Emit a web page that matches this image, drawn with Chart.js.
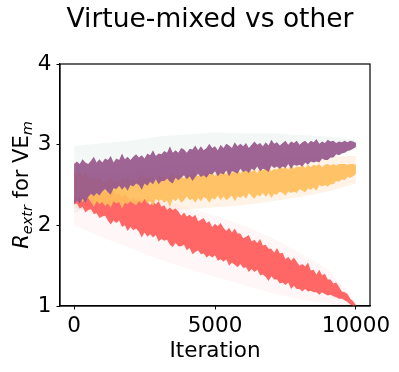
<!DOCTYPE html>
<html>
<head>
<meta charset="utf-8">
<script src="https://cdn.jsdelivr.net/npm/chart.js@4"></script>
<style>
    html, body { margin: 0; padding: 0; background: #fff; }
    #chart { display: block; }
</style>
</head>
<body>
<canvas id="chart" width="399" height="372"></canvas>
<script>
// Iterations for the dense (noisy) runs, every 100
const iterations = [];
for (let it = 0; it <= 10000; it += 100) iterations.push(it);

// Virtue-mixed (purple) run, upper / lower edge of the noise
const purpleHigh = [2.76, 2.79, 2.76, 2.82, 2.78, 2.76, 2.80, 2.85, 2.78, 2.82,
    2.78, 2.83, 2.81, 2.86, 2.78, 2.83, 2.81, 2.89, 2.82, 2.85,
    2.81, 2.85, 2.88, 2.84, 2.87, 2.83, 2.89, 2.87, 2.93, 2.86,
    2.89, 2.88, 2.92, 2.90, 2.98, 2.90, 2.93, 2.90, 2.96, 2.94,
    2.90, 2.95, 2.94, 2.99, 2.93, 2.98, 2.93, 2.96, 3.01, 2.96,
    2.98, 2.93, 3.00, 2.96, 3.01, 2.99, 2.96, 3.03, 2.98, 3.01,
    2.98, 3.02, 2.96, 3.00, 3.04, 3.00, 3.02, 2.98, 3.03, 2.99,
    3.06, 3.01, 3.03, 2.99, 3.02, 3.05, 3.00, 3.04, 3.02, 3.05,
    3.00, 3.03, 3.05, 3.01, 3.05, 3.03, 3.07, 3.01, 3.04, 3.02,
    3.06, 3.04, 3.05, 3.02, 3.04, 3.03, 3.05, 3.03, 3.05, 3.04, 3.02];
const purpleLow = [2.26, 2.31, 2.27, 2.33, 2.28, 2.35, 2.39, 2.36, 2.40, 2.37,
    2.42, 2.45, 2.41, 2.38, 2.46, 2.45, 2.49, 2.44, 2.48, 2.43,
    2.50, 2.48, 2.52, 2.50, 2.44, 2.52, 2.49, 2.54, 2.51, 2.57,
    2.51, 2.55, 2.55, 2.58, 2.54, 2.52, 2.59, 2.56, 2.59, 2.62,
    2.57, 2.61, 2.55, 2.60, 2.64, 2.60, 2.62, 2.59, 2.64, 2.63,
    2.67, 2.61, 2.65, 2.63, 2.68, 2.61, 2.67, 2.66, 2.64, 2.70,
    2.66, 2.68, 2.65, 2.70, 2.68, 2.73, 2.67, 2.70, 2.69, 2.66,
    2.74, 2.71, 2.73, 2.70, 2.73, 2.71, 2.76, 2.70, 2.75, 2.74,
    2.75, 2.73, 2.78, 2.75, 2.79, 2.78, 2.79, 2.78, 2.83, 2.81,
    2.81, 2.84, 2.84, 2.88, 2.87, 2.89, 2.90, 2.92, 2.93, 2.95, 2.97];

// Orange run
const orangeHigh = [2.66, 2.62, 2.66, 2.61, 2.66, 2.60, 2.56, 2.60, 2.56, 2.60,
    2.55, 2.53, 2.57, 2.61, 2.54, 2.57, 2.53, 2.59, 2.56, 2.61,
    2.55, 2.58, 2.55, 2.58, 2.64, 2.58, 2.61, 2.57, 2.60, 2.56,
    2.63, 2.59, 2.61, 2.58, 2.63, 2.65, 2.60, 2.63, 2.61, 2.58,
    2.65, 2.61, 2.68, 2.63, 2.61, 2.65, 2.63, 2.67, 2.63, 2.65,
    2.61, 2.67, 2.65, 2.67, 2.63, 2.70, 2.65, 2.67, 2.69, 2.64,
    2.69, 2.67, 2.71, 2.66, 2.69, 2.65, 2.71, 2.68, 2.71, 2.74,
    2.67, 2.70, 2.69, 2.73, 2.70, 2.73, 2.69, 2.75, 2.70, 2.73,
    2.72, 2.75, 2.71, 2.75, 2.72, 2.75, 2.74, 2.76, 2.72, 2.75,
    2.76, 2.74, 2.76, 2.74, 2.76, 2.76, 2.76, 2.75, 2.76, 2.76, 2.75];
const orangeLow = [2.36, 2.32, 2.35, 2.29, 2.32, 2.34, 2.29, 2.23, 2.30, 2.26,
    2.29, 2.24, 2.27, 2.22, 2.30, 2.27, 2.29, 2.21, 2.28, 2.26,
    2.30, 2.27, 2.25, 2.30, 2.27, 2.33, 2.27, 2.30, 2.24, 2.33,
    2.30, 2.32, 2.28, 2.31, 2.23, 2.33, 2.30, 2.34, 2.28, 2.31,
    2.36, 2.31, 2.33, 2.28, 2.34, 2.30, 2.35, 2.33, 2.28, 2.34,
    2.32, 2.37, 2.31, 2.36, 2.31, 2.34, 2.37, 2.30, 2.36, 2.34,
    2.37, 2.33, 2.40, 2.36, 2.33, 2.38, 2.36, 2.40, 2.35, 2.40,
    2.34, 2.39, 2.38, 2.42, 2.40, 2.37, 2.42, 2.40, 2.42, 2.40,
    2.45, 2.43, 2.41, 2.46, 2.44, 2.47, 2.43, 2.50, 2.48, 2.50,
    2.48, 2.51, 2.51, 2.55, 2.54, 2.57, 2.56, 2.60, 2.59, 2.61, 2.64];

// Red run
const redHigh = [2.58, 2.58, 2.57, 2.54, 2.55, 2.51, 2.50, 2.46, 2.48, 2.45,
    2.45, 2.41, 2.42, 2.38, 2.43, 2.38, 2.39, 2.35, 2.38, 2.35,
    2.31, 2.35, 2.31, 2.33, 2.29, 2.33, 2.29, 2.25, 2.29, 2.26,
    2.30, 2.23, 2.25, 2.19, 2.22, 2.19, 2.21, 2.17, 2.12, 2.16,
    2.11, 2.13, 2.10, 2.13, 2.05, 2.07, 2.09, 2.03, 2.05, 1.98,
    2.02, 1.99, 2.03, 1.97, 1.93, 1.97, 1.91, 1.96, 1.90, 1.90,
    1.84, 1.86, 1.88, 1.80, 1.82, 1.78, 1.83, 1.75, 1.76, 1.71,
    1.71, 1.66, 1.72, 1.65, 1.66, 1.58, 1.61, 1.56, 1.60, 1.55,
    1.50, 1.52, 1.49, 1.54, 1.44, 1.45, 1.39, 1.45, 1.38, 1.40,
    1.33, 1.33, 1.28, 1.29, 1.24, 1.18, 1.17, 1.15, 1.09, 1.06, 1.01];
const redLow = [2.26, 2.27, 2.21, 2.23, 2.16, 2.19, 2.20, 2.14, 2.15, 2.09,
    2.11, 2.12, 2.06, 2.01, 2.06, 2.03, 2.06, 1.98, 2.00, 1.93,
    1.98, 1.94, 1.96, 1.92, 1.85, 1.91, 1.86, 1.89, 1.85, 1.88,
    1.80, 1.83, 1.81, 1.82, 1.76, 1.73, 1.78, 1.74, 1.74, 1.76,
    1.69, 1.72, 1.64, 1.67, 1.69, 1.64, 1.65, 1.60, 1.63, 1.60,
    1.63, 1.56, 1.58, 1.55, 1.58, 1.50, 1.54, 1.51, 1.48, 1.52,
    1.47, 1.48, 1.42, 1.46, 1.42, 1.45, 1.38, 1.39, 1.36, 1.31,
    1.37, 1.33, 1.33, 1.28, 1.29, 1.26, 1.29, 1.21, 1.25, 1.21,
    1.21, 1.18, 1.21, 1.18, 1.19, 1.17, 1.17, 1.14, 1.17, 1.15,
    1.13, 1.14, 1.12, 1.11, 1.09, 1.09, 1.07, 1.05, 1.02, 1.00, 0.99];

// Faint spread bands
const bandIterations = [0, 1000, 2000, 3000, 4000, 5000, 6000, 7000, 8000, 9000, 10000];
const purpleBandHigh = [2.98, 3.02, 3.05, 3.10, 3.13, 3.15, 3.14, 3.14, 3.12, 3.10, 3.06];
const purpleBandLow = [2.15, 2.30, 2.40, 2.48, 2.55, 2.60, 2.65, 2.70, 2.75, 2.82, 2.94];
const orangeBandHigh = [2.72, 2.66, 2.68, 2.72, 2.76, 2.78, 2.80, 2.82, 2.84, 2.86, 2.86];
const orangeBandLow = [2.22, 2.12, 2.15, 2.18, 2.20, 2.22, 2.25, 2.30, 2.35, 2.42, 2.52];
const redBandHigh = [2.70, 2.55, 2.45, 2.35, 2.22, 2.12, 2.00, 1.85, 1.66, 1.46, 1.05];
const redBandLow = [2.00, 1.85, 1.72, 1.58, 1.47, 1.36, 1.26, 1.16, 1.08, 1.03, 0.98];

// Axis ticks
const xTickValues = [0, 5000, 10000];
const yTickValues = [1, 2, 3, 4];

const FONT = "'DejaVu Sans', 'Liberation Sans', sans-serif";

function points(xs, ys) {
    return xs.map((x, i) => ({ x: x, y: ys[i] }));
}

// Area edge: the upper edge fills down to the next dataset
function edge(xs, ys, color, fillNext) {
    return {
        data: points(xs, ys),
        borderWidth: 0,
        borderColor: 'rgba(0,0,0,0)',
        backgroundColor: color,
        pointRadius: 0,
        tension: 0,
        fill: fillNext ? '+1' : false
    };
}

// Box around the plot and the title centred over it
const frame = {
    id: 'frame',
    afterDraw(chart) {
        const { ctx, chartArea } = chart;
        ctx.save();
        ctx.strokeStyle = '#000';
        ctx.lineWidth = 1.2;
        ctx.strokeRect(chartArea.left, chartArea.top,
            chartArea.right - chartArea.left, chartArea.bottom - chartArea.top);

        ctx.fillStyle = '#000';
        ctx.font = '26.5px ' + FONT;
        ctx.textAlign = 'center';
        ctx.textBaseline = 'alphabetic';
        ctx.fillText('Virtue-mixed vs other', 210, 26.7);
        ctx.restore();
    }
};

// Y axis label with subscripts: R_extr for VE_m
const yLabel = {
    id: 'yLabel',
    afterDraw(chart) {
        const { ctx, chartArea } = chart;
        const parts = [
            { t: 'R', size: 21, italic: true, dy: 0 },
            { t: 'extr', size: 14.5, italic: true, dy: 5 },
            { t: ' for VE', size: 21, italic: false, dy: 0 },
            { t: 'm', size: 14.5, italic: true, dy: 5 }
        ];
        ctx.save();
        let total = 0;
        parts.forEach(p => {
            ctx.font = (p.italic ? 'italic ' : '') + p.size + 'px ' + FONT;
            p.w = ctx.measureText(p.t).width;
            total += p.w;
        });
        ctx.translate(23, (chartArea.top + chartArea.bottom) / 2);
        ctx.rotate(-Math.PI / 2);
        ctx.fillStyle = '#000';
        ctx.textBaseline = 'middle';
        ctx.textAlign = 'left';
        let x = -total / 2;
        parts.forEach(p => {
            ctx.font = (p.italic ? 'italic ' : '') + p.size + 'px ' + FONT;
            ctx.fillText(p.t, x, p.dy);
            x += p.w;
        });
        ctx.restore();
    }
};

function initializeChart() {
    const purpleDense = 'rgba(150, 88, 140, 0.92)';
    const orangeDense = 'rgba(255, 190, 92, 0.92)';
    const redDense = 'rgba(255, 96, 96, 0.95)';

    new Chart(document.getElementById('chart'), {
        type: 'line',
        data: {
            datasets: [
                edge(iterations, purpleHigh, purpleDense, true),
                edge(iterations, purpleLow, purpleDense, false),
                edge(iterations, orangeHigh, orangeDense, true),
                edge(iterations, orangeLow, orangeDense, false),
                edge(iterations, redHigh, redDense, true),
                edge(iterations, redLow, redDense, false),
                edge(bandIterations, purpleBandHigh, 'rgba(150, 190, 175, 0.11)', true),
                edge(bandIterations, purpleBandLow, 'rgba(150, 190, 175, 0.11)', false),
                edge(bandIterations, orangeBandHigh, 'rgba(255, 200, 150, 0.22)', true),
                edge(bandIterations, orangeBandLow, 'rgba(255, 200, 150, 0.22)', false),
                edge(bandIterations, redBandHigh, 'rgba(255, 150, 165, 0.09)', true),
                edge(bandIterations, redBandLow, 'rgba(255, 150, 165, 0.09)', false)
            ]
        },
        options: {
            responsive: false,
            animation: false,
            layout: { padding: { left: 0, right: 29, top: 64, bottom: 0 } },
            plugins: {
                legend: { display: false },
                tooltip: { enabled: false },
                title: { display: false }
            },
            scales: {
                x: {
                    type: 'linear',
                    min: -500,
                    max: 10500,
                    afterFit: s => { s.height = 66; },
                    afterBuildTicks: s => { s.ticks = xTickValues.map(v => ({ value: v })); },
                    grid: { drawOnChartArea: false, drawTicks: true, tickLength: 3.5, color: '#000' },
                    border: { color: '#000', width: 1.2 },
                    ticks: {
                        color: '#000',
                        padding: 4,
                        maxRotation: 0,
                        font: { family: FONT, size: 21.5 },
                        callback: v => String(v)
                    },
                    title: {
                        display: true,
                        text: 'Iteration',
                        color: '#000',
                        font: { family: FONT, size: 21.5 },
                        padding: { top: 0, bottom: 7.6 }
                    }
                },
                y: {
                    min: 1,
                    max: 4,
                    afterFit: s => { s.width = 60; },
                    afterBuildTicks: s => { s.ticks = yTickValues.map(v => ({ value: v })); },
                    grid: { drawOnChartArea: false, drawTicks: true, tickLength: 3.5, color: '#000' },
                    border: { color: '#000', width: 1.2 },
                    ticks: {
                        color: '#000',
                        padding: 5,
                        font: { family: FONT, size: 21.5 },
                        callback: v => String(v)
                    }
                }
            }
        },
        plugins: [frame, yLabel]
    });
}

document.addEventListener('DOMContentLoaded', initializeChart);
</script>
</body>
</html>
